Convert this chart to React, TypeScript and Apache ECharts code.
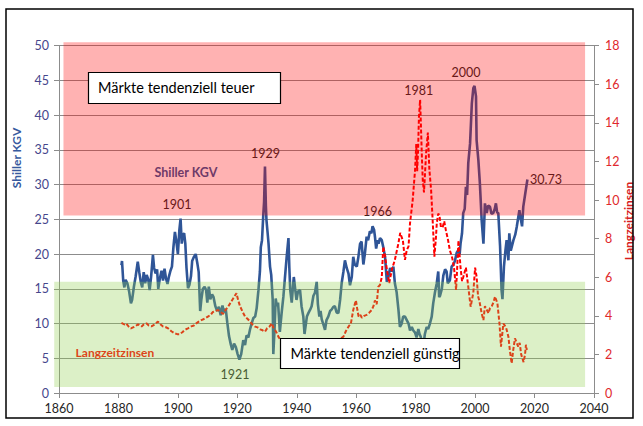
import { useEffect, useRef } from "react";
import * as echarts from "echarts";

// Shiller KGV (left axis)
const capeYears = [
  1881.0, 1881.2, 1881.6, 1882.0, 1882.4, 1883.0, 1883.6, 1884.2, 1884.6, 1885.2, 1885.8, 1886.5, 1887.0, 1887.5,
  1888.0, 1888.5, 1889.0, 1889.5, 1890.0, 1890.5, 1891.0, 1891.6, 1892.0, 1892.5, 1893.0, 1893.4, 1893.9, 1894.5,
  1895.0, 1895.5, 1896.0, 1896.5, 1897.0, 1897.5, 1898.0, 1898.5, 1899.0, 1899.5, 1900.0, 1900.5, 1900.9, 1901.3,
  1901.7, 1902.1, 1902.5, 1902.9, 1903.4, 1903.9, 1904.4, 1904.8, 1905.4, 1906.0, 1906.5, 1907.0, 1907.5, 1907.9,
  1908.4, 1909.0, 1909.5, 1909.9, 1910.4, 1910.9, 1911.5, 1912.0, 1912.6, 1913.2, 1913.8, 1914.4, 1915.0, 1915.5,
  1916.1, 1916.6, 1917.2, 1917.8, 1918.3, 1918.9, 1919.5, 1920.1, 1920.7, 1921.3, 1922.0, 1922.6, 1923.1, 1923.7,
  1924.3, 1924.8, 1925.4, 1926.0, 1926.5, 1927.1, 1927.6, 1927.9, 1928.3, 1928.7, 1929.0, 1929.3, 1929.6, 1929.8,
  1930.2, 1930.5, 1931.0, 1931.4, 1931.9, 1932.1, 1932.5, 1932.9, 1933.3, 1933.7, 1934.3, 1934.9, 1935.5, 1936.0,
  1936.6, 1937.2, 1937.5, 1937.8, 1938.3, 1938.7, 1939.0, 1939.5, 1939.9, 1940.4, 1941.1, 1941.6, 1942.2, 1942.6,
  1943.4, 1943.9, 1944.5, 1945.0, 1945.6, 1946.1, 1946.7, 1947.1, 1947.6, 1948.0, 1948.4, 1949.0, 1949.5, 1950.0,
  1950.6, 1951.2, 1951.7, 1952.3, 1952.8, 1953.4, 1954.0, 1954.6, 1955.1, 1955.7, 1956.2, 1956.8, 1957.4, 1957.9,
  1958.5, 1959.0, 1959.5, 1960.2, 1960.7, 1961.3, 1961.8, 1962.4, 1962.9, 1963.5, 1964.0, 1964.6, 1965.1, 1965.5,
  1966.0, 1966.3, 1966.7, 1967.2, 1967.5, 1968.0, 1968.6, 1969.1, 1969.7, 1970.3, 1970.8, 1971.4, 1972.0, 1972.5,
  1973.0, 1973.6, 1974.2, 1974.7, 1975.3, 1975.8, 1976.4, 1977.0, 1977.6, 1978.1, 1978.7, 1979.2, 1979.8, 1980.3,
  1980.9, 1981.3, 1981.7, 1982.2, 1982.6, 1983.1, 1983.7, 1984.2, 1984.8, 1985.4, 1985.9, 1986.5, 1987.1, 1987.6,
  1987.9, 1988.2, 1988.8, 1989.3, 1989.9, 1990.4, 1990.8, 1991.5, 1992.1, 1992.7, 1993.2, 1993.8, 1994.4, 1994.8,
  1995.1, 1995.6, 1996.0, 1996.5, 1996.9, 1997.3, 1997.7, 1998.3, 1998.9, 1999.4, 1999.8, 2000.3, 2000.5, 2001.1,
  2001.6, 2002.2, 2002.8, 2003.3, 2003.9, 2004.4, 2005.0, 2005.5, 2006.1, 2006.6, 2007.0, 2007.4, 2007.8, 2008.4,
  2008.9, 2009.2, 2009.7, 2010.2, 2010.6, 2011.2, 2011.5, 2012.0, 2012.9, 2013.5, 2014.0, 2014.9, 2015.3, 2015.8,
  2016.2, 2016.9, 2017.6,
];
const capeValues = [
  18.4, 19.0, 16.2, 15.2, 16.3, 15.8, 14.6, 12.9, 13.4, 15.3, 16.8, 18.9, 17.4, 16.0,
  15.2, 17.4, 15.8, 17.0, 16.4, 14.8, 16.8, 19.9, 18.0, 17.2, 17.8, 15.0, 16.4, 17.6,
  16.2, 17.9, 16.5, 15.7, 16.8, 17.6, 18.2, 21.0, 23.2, 21.8, 20.0, 23.5, 25.1, 21.5,
  22.8, 23.0, 21.5, 18.0, 15.1, 15.6, 16.8, 19.0, 19.6, 20.0, 18.8, 17.4, 11.8, 13.5,
  15.0, 15.3, 14.8, 13.0, 15.3, 13.5, 14.2, 13.8, 12.5, 11.8, 12.4, 11.2, 12.6, 11.6,
  12.1, 10.2, 8.2, 7.0, 6.2, 7.1, 6.6, 5.6, 4.8, 5.6, 7.6, 6.9, 8.3, 8.0,
  9.2, 10.0, 10.8, 11.0, 12.2, 14.8, 17.5, 21.0, 22.0, 25.4, 27.5, 32.6, 27.0, 24.9,
  23.0, 21.5, 18.2, 17.0, 13.4, 5.6, 9.0, 13.6, 12.5, 13.0, 8.8, 11.5, 13.9, 16.5,
  19.6, 22.3, 18.0, 14.8, 13.0, 15.2, 16.7, 14.8, 13.4, 14.6, 14.8, 12.5, 11.0, 8.5,
  11.0, 11.5, 12.0, 12.5, 14.0, 14.4, 16.0, 12.8, 11.0, 11.8, 10.6, 9.8, 9.1, 10.5,
  11.0, 11.8, 12.0, 12.4, 12.5, 11.6, 11.5, 13.5, 15.8, 17.5, 19.1, 18.0, 17.2, 15.5,
  16.7, 19.6, 18.5, 18.2, 19.5, 21.5, 21.8, 18.5, 20.0, 22.5, 22.0, 23.3, 23.0, 24.0,
  23.5, 22.5, 20.8, 22.0, 21.5, 22.3, 22.0, 21.0, 19.6, 16.0, 16.7, 18.0, 17.5, 18.2,
  15.8, 14.5, 12.0, 9.5, 10.0, 11.0, 11.0, 10.5, 10.0, 9.0, 9.5, 9.0, 8.7, 8.0,
  9.2, 8.5, 8.1, 7.0, 6.8, 8.5, 9.5, 9.2, 10.0, 11.0, 12.9, 14.5, 15.8, 17.5,
  13.8, 14.0, 15.0, 16.9, 17.8, 17.5, 15.8, 16.2, 18.2, 18.5, 19.0, 20.2, 20.6, 20.0,
  21.5, 23.0, 25.9, 26.5, 29.7, 28.5, 33.1, 35.9, 41.7, 43.9, 44.2, 42.7, 36.4, 33.5,
  30.2, 24.9, 21.5, 27.3, 25.9, 27.0, 26.8, 25.8, 25.9, 26.5, 27.3, 26.0, 25.9, 21.1,
  14.8, 13.5, 18.2, 20.5, 22.0, 19.1, 23.0, 20.5, 22.0, 22.8, 23.9, 26.3, 25.2, 24.0,
  26.8, 28.8, 30.73,
];

// Langzeitzinsen (right axis)
const rateYears = [
  1881.0, 1882.0, 1882.6, 1883.4, 1884.2, 1884.9, 1885.6, 1886.6, 1887.2, 1887.8, 1888.5, 1889.4, 1890.2, 1891.1,
  1892.2, 1893.3, 1894.2, 1895.0, 1895.8, 1896.7, 1897.8, 1898.9, 1899.8, 1900.6, 1901.5, 1902.3, 1903.4, 1904.5,
  1905.4, 1906.2, 1907.0, 1907.9, 1909.0, 1910.1, 1911.0, 1911.8, 1912.6, 1913.5, 1914.3, 1915.2, 1916.0, 1916.9,
  1917.8, 1918.6, 1919.7, 1920.3, 1920.9, 1921.8, 1922.6, 1923.4, 1924.3, 1925.1, 1926.0, 1926.8, 1927.7, 1928.5,
  1929.3, 1930.0, 1930.8, 1931.6, 1932.1, 1932.7, 1933.3, 1933.8, 1934.5, 1935.5, 1937.0, 1938.5, 1940.0, 1941.5,
  1943.0, 1944.5, 1946.0, 1947.5, 1949.0, 1950.5, 1952.0, 1953.0, 1954.0, 1955.0, 1955.7, 1956.5, 1957.4, 1958.2,
  1959.0, 1959.6, 1959.9, 1960.4, 1960.8, 1961.4, 1961.9, 1962.7, 1963.5, 1964.3, 1965.2, 1965.8, 1966.3, 1966.9,
  1967.4, 1968.0, 1968.6, 1969.1, 1969.7, 1970.3, 1971.1, 1972.0, 1973.0, 1974.2, 1974.8, 1975.7, 1976.4, 1977.0,
  1977.6, 1978.1, 1979.0, 1979.8, 1980.2, 1980.5, 1980.8, 1981.1, 1981.5, 1981.8, 1982.1, 1982.4, 1982.8, 1983.5,
  1984.1, 1984.6, 1985.2, 1985.7, 1986.3, 1986.8, 1987.1, 1987.6, 1988.0, 1988.5, 1989.1, 1989.6, 1990.2, 1990.8,
  1991.5, 1992.3, 1992.9, 1993.6, 1994.0, 1994.4, 1995.1, 1995.6, 1996.0, 1996.9, 1997.7, 1998.5, 1999.4, 2000.0,
  2000.5, 2001.0, 2001.4, 2002.2, 2002.8, 2003.3, 2004.5, 2005.0, 2005.6, 2006.2, 2006.7, 2007.5, 2008.2, 2008.7,
  2009.5, 2010.4, 2011.2, 2011.7, 2012.3, 2012.8, 2013.4, 2014.0, 2014.5, 2015.0, 2015.5, 2016.3, 2016.8, 2017.1,
  2017.4,
];
const rateValues = [
  3.64, 3.55, 3.6, 3.45, 3.35, 3.4, 3.45, 3.56, 3.5, 3.45, 3.55, 3.61, 3.5, 3.45,
  3.55, 3.7, 3.55, 3.45, 3.42, 3.35, 3.2, 3.09, 3.05, 3.05, 3.15, 3.27, 3.35, 3.45,
  3.5, 3.61, 3.7, 3.78, 3.85, 3.96, 4.05, 4.2, 4.25, 4.3, 4.2, 4.1, 4.3, 4.47,
  4.7, 4.9, 5.17, 4.8, 4.5, 4.2, 3.96, 3.85, 3.7, 3.55, 3.44, 3.4, 3.3, 3.25,
  3.18, 3.35, 3.44, 3.61, 3.4, 3.27, 3.1, 2.92, 2.75, 2.7, 2.6, 2.55, 2.3, 2.2,
  2.4, 2.35, 2.1, 2.3, 2.35, 2.3, 2.6, 2.8, 2.6, 2.85, 2.92, 3.2, 3.44, 3.6,
  4.3, 4.65, 4.8, 4.3, 3.96, 4.05, 3.9, 4.0, 4.05, 4.15, 4.3, 4.5, 4.8, 4.6,
  5.5, 5.6, 6.0, 7.58, 7.1, 6.4, 5.7, 6.4, 6.9, 7.76, 8.3, 7.9, 6.9, 7.4,
  7.6, 8.8, 10.0, 11.56, 12.9, 11.5, 12.5, 14.3, 15.2, 13.7, 12.2, 11.0, 10.4, 12.4,
  13.5, 11.6, 10.5, 9.0, 7.07, 8.0, 8.8, 9.3, 9.2, 8.6, 8.6, 8.9, 8.4, 8.0,
  7.4, 7.0, 6.5, 5.34, 6.6, 7.9, 6.5, 5.8, 6.0, 6.5, 5.5, 4.47, 5.2, 6.5,
  6.03, 5.0, 4.8, 4.13, 3.78, 4.5, 4.13, 4.4, 4.5, 4.7, 5.0, 4.65, 3.6, 2.4,
  3.6, 3.4, 2.92, 2.2, 1.54, 2.2, 2.83, 2.6, 2.4, 2.6, 2.0, 1.6, 2.0, 2.5,
  2.23,
];

// annotations: text, anchor year, anchor value (left axis)
const yearLabels = ["1901", "1929", "1921", "1966", "1981", "2000", "30.73"];
const yearLabelYears = [1899.7, 1929.5, 1919.2, 1967.2, 1981.0, 1996.9, 2018.5];
const yearLabelValues = [27.2, 34.55, 2.7, 26.1, 43.5, 46.1, 30.67];

const FONT = "Lato, 'Open Sans', sans-serif";

export default function App() {
  const ref = useRef<HTMLDivElement>(null);
  useEffect(() => {
    if (!ref.current) return;
    const chart = echarts.init(ref.current, null, { renderer: "svg" });
    const gray = "#8c8c8c";
    chart.setOption({
      animation: false,
      backgroundColor: "#ffffff",
      grid: { left: 59, right: 49, top: 45.7, bottom: 33, containLabel: false },
      xAxis: {
        type: "value",
        min: 1860,
        max: 2040,
        interval: 20,
        axisLine: { show: true, onZero: false, lineStyle: { color: gray } },
        axisTick: { show: true, length: 5, lineStyle: { color: gray } },
        axisLabel: {
          color: "#262626",
          fontFamily: FONT,
          fontSize: 12.5,
          margin: 9,
          formatter: (v: number) => String(v),
        },
        splitLine: { show: false },
      },
      yAxis: [
        {
          type: "value",
          min: 0,
          max: 50,
          interval: 5,
          position: "left",
          axisLine: { show: true, lineStyle: { color: gray } },
          axisTick: { show: true, length: 5, lineStyle: { color: gray } },
          axisLabel: { color: "#46468c", fontFamily: FONT, fontSize: 12.5, margin: 10 },
          splitLine: { show: true, lineStyle: { color: gray, width: 1 } },
        },
        {
          type: "value",
          min: 0,
          max: 18,
          interval: 2,
          position: "right",
          axisLine: { show: true, lineStyle: { color: gray } },
          axisTick: { show: true, length: 5, lineStyle: { color: gray } },
          axisLabel: { color: "#e0282c", fontFamily: FONT, fontSize: 12.5, margin: 11 },
          splitLine: { show: false },
        },
      ],
      series: [
        {
          type: "line",
          name: "Shiller KGV",
          yAxisIndex: 0,
          symbol: "none",
          data: capeYears.map((y, i) => [y, capeValues[i]]),
          lineStyle: { color: "#2f5597", width: 2.6 },
          z: 2,
        },
        {
          type: "line",
          name: "Langzeitzinsen",
          yAxisIndex: 1,
          symbol: "none",
          data: rateYears.map((y, i) => [y, rateValues[i]]),
          lineStyle: { color: "#ff0000", width: 2, type: [4, 2] },
          z: 3,
        },
      ],
    });

    const px = (x: number, y: number) =>
      chart.convertToPixel({ xAxisIndex: 0, yAxisIndex: 0 }, [x, y]) as number[];

    const txt = (
      text: string,
      x: number,
      y: number,
      fill: string,
      font: string,
      align: string,
      z: number,
      rotation = 0
    ) => ({
      type: "text",
      x,
      y,
      rotation,
      z,
      silent: true,
      style: {
        text,
        fill,
        font,
        align,
        textAlign: align,
        verticalAlign: "middle",
        textVerticalAlign: "middle",
      },
    });

    const graphics: any[] = [];
    yearLabels.forEach((t, i) => {
      const p = px(yearLabelYears[i], yearLabelValues[i]);
      graphics.push(
        txt(t, p[0], p[1], "#262626", `12.5px ${FONT}`, t === "30.73" ? "left" : "center", 4)
      );
    });
    const sk = px(1902.7, 31.8);
    graphics.push(txt("Shiller KGV", sk[0], sk[1], "#2f5597", `bold 12.5px ${FONT}`, "center", 4));
    const lz = px(1878.8, 5.9);
    graphics.push(txt("Langzeitzinsen", lz[0], lz[1], "#ff0000", `bold 12px ${FONT}`, "center", 4));

    // translucent bands
    const r1 = px(1861.5, 50.5);
    const r2 = px(2037, 25.55);
    graphics.push({
      type: "rect",
      z: 10,
      silent: true,
      shape: { x: r1[0], y: r1[1], width: r2[0] - r1[0], height: r2[1] - r1[1] },
      style: { fill: "rgba(255,0,0,0.3)" },
    });
    const g1 = px(1858.4, 16.0);
    const g2 = px(2037, 0.85);
    graphics.push({
      type: "rect",
      z: 10,
      silent: true,
      shape: { x: g1[0], y: g1[1], width: g2[0] - g1[0], height: g2[1] - g1[1] },
      style: { fill: "rgba(146,208,80,0.32)" },
    });

    // text boxes
    graphics.push({
      type: "rect",
      z: 20,
      silent: true,
      shape: { x: 88.5, y: 72.5, width: 192, height: 31 },
      style: { fill: "#ffffff", stroke: "#000000", lineWidth: 1.2 },
    });
    graphics.push(txt("Märkte tendenziell teuer", 98, 87, "#000000", `14.5px ${FONT}`, "left", 21));
    graphics.push({
      type: "rect",
      z: 20,
      silent: true,
      shape: { x: 280.5, y: 338.5, width: 179, height: 30 },
      style: { fill: "#ffffff", stroke: "#000000", lineWidth: 1.2 },
    });
    graphics.push(txt("Märkte tendenziell günstig", 290.5, 353.5, "#000000", `14.5px ${FONT}`, "left", 21));

    // axis names
    graphics.push(txt("Shiller KGV", 16, 158, "#375a9e", `bold 12px ${FONT}`, "center", 21, Math.PI / 2));
    graphics.push(txt("Langzeitzinsen", 628, 221, "#d81e1e", `bold 12px ${FONT}`, "center", 21, Math.PI / 2));

    // outer frame
    graphics.push({
      type: "rect",
      z: 30,
      silent: true,
      shape: { x: 6, y: 9, width: 627, height: 409 },
      style: { fill: "none", stroke: "#000000", lineWidth: 1.5 },
    });

    chart.setOption({ graphic: graphics });
    return () => chart.dispose();
  }, []);
  return (
    <div
      ref={ref}
      style={{ position: "absolute", left: 0, top: 0, width: 643, height: 426 }}
    />
  );
}
